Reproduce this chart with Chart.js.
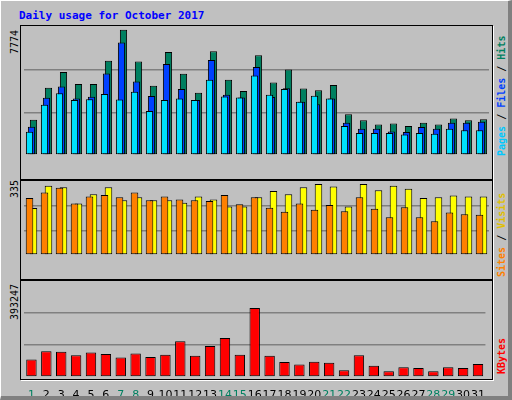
<!DOCTYPE html>
<html><head><meta charset="utf-8">
<script src="https://cdn.jsdelivr.net/npm/chart.js@4"></script>
<style>
body{margin:0;background:#fff}
#wrap{position:relative;width:512px;height:400px;background:#c0c0c0;box-sizing:border-box;border-top:1px solid #fff;border-left:1px solid #fff;border-right:4px solid #808080;border-bottom:4px solid #808080;overflow:hidden}
.frame{position:absolute;border:1px solid #000;box-shadow:1px 1px 0 #fff}
canvas{position:absolute}
.t{position:absolute;font:bold 11px "DejaVu Sans Mono",monospace;white-space:nowrap}
.rot{transform-origin:0 0;transform:rotate(-90deg);font-size:10px}
</style></head><body>
<div id="wrap">
<div class="t" style="left:18px;top:8px;color:#0000ff">Daily usage for October 2017</div>
<div class="frame" style="left:19px;top:24px;width:471px;height:153px"></div>
<div class="frame" style="left:19px;top:179px;width:471px;height:98px"></div>
<div class="frame" style="left:19px;top:279px;width:471px;height:98px"></div>
<div class="t rot" style="left:8px;top:53px;font-weight:normal;color:#000">7774</div>
<div class="t rot" style="left:8px;top:197px;font-weight:normal;color:#000">335</div>
<div class="t rot" style="left:8px;top:319px;font-weight:normal;color:#000">393247</div>
<div class="t rot" style="left:495px;top:155px"><span style="color:#00c8ff">Pages</span><span style="color:#000"> / </span><span style="color:#0040ff">Files</span><span style="color:#000"> / </span><span style="color:#008060">Hits</span></div>
<div class="t rot" style="left:495px;top:276px"><span style="color:#ff8000">Sites</span><span style="color:#000"> / </span><span style="color:#e0c000">Visits</span></div>
<div class="t rot" style="left:495px;top:373px;color:#ff0000">KBytes</div>
<canvas id="c1" style="left:23px;top:26px" width="465" height="150"></canvas>
<canvas id="c2" style="left:23px;top:180px" width="465" height="96"></canvas>
<canvas id="c3" style="left:23px;top:280px" width="465" height="118"></canvas>
</div>
<script>
const days = Array.from({length: 31}, (_, i) => String(i + 1));
const weekends = [1, 7, 8, 14, 15, 21, 22, 28, 29];
const hitsMax = 7774, visitsMax = 335, kbytesMax = 393247;
const hits = [2138,4090,5039,4313,4313,5726,7602,5674,4210,6251,4932,3783,6303,4571,3887,6062,4400,5193,4038,3935,4245,2476,2115,1857,1909,1754,1961,1857,2218,2115,2167];
const files = [1720,3471,4158,3436,3539,4950,6828,4468,3590,5529,4004,3333,5777,3659,3488,5339,3522,4056,3230,3075,3436,1961,1599,1599,1427,1393,1703,1599,1961,1961,2012];
const pages = [1410,3058,3746,3333,3384,3711,3368,3849,2666,3333,3436,3333,4571,3555,3488,4830,3659,4004,3230,3591,3436,1754,1341,1341,1341,1238,1341,1289,1599,1496,1496];
const visits = [213,314,307,233,275,307,248,262,248,248,237,265,251,220,220,262,290,275,307,321,310,220,321,293,314,300,258,262,269,265,265];
const sites = [258,283,304,233,265,272,262,283,248,265,251,248,244,272,230,262,214,196,233,205,226,198,262,209,171,216,171,153,192,185,182];
const kbytes = [71500,105300,103000,89300,100600,93800,80100,96000,82400,91500,146500,86900,126600,160200,91500,283000,87300,61300,51700,62900,58600,27900,89200,46000,23100,39600,37300,23100,39600,37300,53200];

const green = '#008060';
function panel(id, sets, max, cat, bar, showX) {
  new Chart(document.getElementById(id), {
    type: 'bar',
    data: {labels: days, datasets: sets.map((s, i) => ({data: s[0], backgroundColor: s[1], order: sets.length - i,
      borderColor: '#000', borderWidth: 1, borderSkipped: false}))},
    options: {
      responsive: false, animation: false,
      categoryPercentage: cat, barPercentage: bar,
      layout: {padding: 0},
      plugins: {legend: {display: false}, tooltip: {enabled: false}},
      scales: {
        x: {display: showX, grid: {display: false}, border: {display: false},
            afterFit: a => { a.height = 22; },
            ticks: {autoSkip: false, maxRotation: 0, padding: 4, font: {family: 'DejaVu Sans', size: 11},
                    color: c => weekends.includes(c.index + 1) ? green : '#000'}},
        y: {min: 0, max: max, afterBuildTicks: a => { a.ticks = [0, 1, 2, 3].map(k => ({value: max * k / 3})); },
            ticks: {display: false}, border: {display: false},
            grid: {drawTicks: false, lineWidth: 1.5, color: c => (c.index === 1 || c.index === 2) ? '#808080' : 'rgba(0,0,0,0)'}}
      }
    }
  });
}
panel('c1', [[hits, '#008060'], [files, '#0040ff'], [pages, '#00e0ff']], hitsMax, 0.4, 3.6, false);
panel('c2', [[visits, '#ffff00'], [sites, '#ff8000']], visitsMax, 0.53, 1.9, false);
panel('c3', [[kbytes, '#ff0000']], kbytesMax, 0.7, 1, true);
</script>
</body></html>
